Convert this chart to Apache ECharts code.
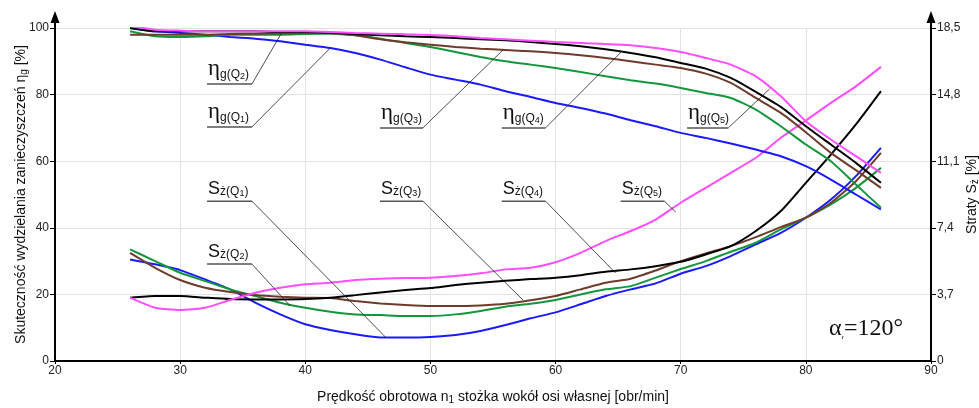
<!DOCTYPE html>
<html>
<head>
<meta charset="utf-8">
<script src="https://cdn.jsdelivr.net/npm/echarts@6/dist/echarts.min.js"></script>
<style>html,body{margin:0;padding:0;background:#fff}#c{width:979px;height:408px}</style>
</head>
<body>
<div id="c"></div>
<script>
// ---- data (x: rotational speed n1 [obr/min]) ----
const speed = [26,28,30,32,34,36,38,40,42,44,46,48,50,52,54,56,58,60,62,64,66,68,70,72,74,76,78,80,82,84,86];

// separation efficiency eta_g [%] (left axis)
const etaQ1 = [100,99,98.5,98,97.3,96.8,96,95,94,92.5,90.5,88.2,86,84.5,83,81,79.3,77.5,76,74.3,72.3,70.5,68.5,67,65.3,63.5,61.5,58.5,54.5,50,45.5];
const etaQ2 = [99,97.5,97.3,97.5,98,98,98,98.2,98.3,97.8,96.8,95.5,94.3,92.8,91.3,90,89,88,86.8,85.5,84.3,83.3,82,80.5,79,75.5,70.5,65,60,53,46];
const etaQ3 = [98,98,98,98,98.2,98.3,98.4,98.5,98.5,97.8,96.6,95.7,95,94.3,93.8,93.4,93,92.5,91.8,91,90,89,88,86.3,83.5,79,74.5,68.7,62.5,57.3,52];
const etaQ4 = [100,99,99,99,99,99,98.8,98.8,98.6,98.2,97.8,97.5,97.3,97,96.6,96.3,95.8,95.2,94.5,93.6,92.5,91.2,89.5,87.8,85,80.8,76.3,70.5,65,59.5,53.5];
const etaQ5 = [100.5,99.5,99.2,99,99,99,99,99,98.8,98.5,98.3,98.1,97.9,97.5,97,96.6,96.2,95.8,95.5,95.2,94.8,94,92.8,91,89,85.5,79.5,72,66.5,61.5,56.5];

// losses S_z [%] (right axis)
const lossQ1 = [5.64,5.37,5.05,4.53,3.98,3.24,2.59,2.04,1.72,1.48,1.30,1.30,1.33,1.44,1.67,2.00,2.37,2.70,3.15,3.61,3.98,4.31,4.85,5.27,5.83,6.48,7.12,7.96,8.97,10.27,11.84];
const lossQ2 = [6.20,5.55,4.90,4.44,3.98,3.61,3.24,2.96,2.74,2.59,2.55,2.50,2.50,2.59,2.78,3.02,3.18,3.39,3.70,3.98,4.16,4.63,5.11,5.55,6.07,6.57,7.31,7.96,8.70,9.62,10.73];
const lossQ3 = [6.01,5.18,4.50,4.07,3.83,3.66,3.57,3.52,3.50,3.33,3.20,3.11,3.05,3.05,3.09,3.18,3.37,3.61,3.98,4.35,4.57,5.03,5.55,5.98,6.38,6.88,7.44,7.96,8.79,9.99,11.56];
const lossQ4 = [3.52,3.61,3.61,3.52,3.44,3.42,3.42,3.44,3.52,3.66,3.81,3.94,4.05,4.22,4.35,4.46,4.55,4.63,4.77,4.96,5.09,5.27,5.51,5.92,6.38,7.22,8.33,9.90,11.47,13.14,14.99];
const lossQ5 = [3.52,2.96,2.83,2.96,3.39,3.79,4.07,4.26,4.35,4.50,4.57,4.61,4.63,4.72,4.87,5.09,5.18,5.49,6.01,6.66,7.22,7.86,8.79,9.62,10.45,11.29,12.40,13.36,14.34,15.26,16.34];

const qNames = ['1','2','3','4','5'];
const leftTicks = [0,20,40,60,80,100];
const rightTicks = ['0','3,7','7,4','11,1','14,8','18,5'];

// ---- styling / layout ----
const COLORS = ['#1a1aff','#14963c','#6e3b2c','#000000','#ff4dff'];
const SANS = 'Liberation Sans, Arial, sans-serif';
const SERIF = 'Liberation Serif, Times New Roman, serif';

// annotation placements (data coordinates of left axis)
const etaNotes = [
  {q:0, x0:32.15, x1:35.74, y:70.3, tx:42.0, ty:94.0},
  {q:1, x0:32.15, x1:35.74, y:83.2, tx:38.1, ty:98.5},
  {q:2, x0:45.97, x1:49.40, y:70.0, tx:55.8, ty:93.4},
  {q:3, x0:55.70, x1:59.20, y:70.0, tx:65.3, ty:93.0},
  {q:4, x0:70.50, x1:73.80, y:70.0, tx:77.1, ty:81.7}
];
const lossNotes = [
  {q:0, x0:32.15, x1:35.74, y:48.0, tx:46.4, ty:7.2},
  {q:1, x0:32.15, x1:35.74, y:29.1, tx:38.8, ty:16.5},
  {q:2, x0:45.97, x1:49.40, y:48.0, tx:57.4, ty:18.3},
  {q:3, x0:55.70, x1:59.20, y:48.0, tx:64.8, ty:26.4},
  {q:4, x0:65.20, x1:68.70, y:48.0, tx:69.6, ty:44.7}
];

const etaSets = [etaQ1, etaQ2, etaQ3, etaQ4, etaQ5];
const lossSets = [lossQ1, lossQ2, lossQ3, lossQ4, lossQ5];

const chart = echarts.init(document.getElementById('c'), null, {renderer:'canvas'});

const series = [];
lossSets.forEach((ys, i) => series.push({
  name: 'S' + qNames[i], type: 'line', yAxisIndex: 1, showSymbol: false, smooth: 0.2,
  data: speed.map((x, k) => [x, ys[k]]),
  lineStyle: {color: COLORS[i], width: 2}, itemStyle: {color: COLORS[i]}, z: 3
}));
etaSets.forEach((ys, i) => series.push({
  name: 'eta' + qNames[i], type: 'line', yAxisIndex: 0, showSymbol: false, smooth: 0.2,
  data: speed.map((x, k) => [x, ys[k]]),
  lineStyle: {color: COLORS[i], width: 2}, itemStyle: {color: COLORS[i]}, z: 3
}));

const axisLineStyle = {color: '#000', width: 2};
const labelStyle = {color: '#222', fontSize: 12, fontFamily: SANS};
const nameStyle = {color: '#111', fontSize: 14, fontFamily: SANS, lineHeight: 16,
  rich: {s: {fontSize: 10, fontFamily: SANS, color: '#111', verticalAlign: 'bottom', lineHeight: 6}}};

const option = {
  animation: false,
  backgroundColor: '#fff',
  grid: {left: 55, right: 48, top: 28, bottom: 47, containLabel: false, outerBoundsMode: 'none'},
  xAxis: {
    type: 'value', min: 20, max: 90, interval: 10,
    axisLine: {lineStyle: axisLineStyle},
    axisTick: {show: true, length: 3, lineStyle: {color: '#000', width: 1}},
    axisLabel: Object.assign({margin: 4}, labelStyle),
    splitLine: {show: true, lineStyle: {color: '#e2e2e2', width: 1}},
    name: 'Prędkość obrotowa n{s|1} stożka wokół osi własnej [obr/min]',
    nameLocation: 'middle', nameGap: 28, nameMoveOverlap: false, nameTextStyle: nameStyle
  },
  yAxis: [{
    type: 'value', min: 0, max: 100, interval: 20, position: 'left',
    axisLine: {show: true, lineStyle: axisLineStyle},
    axisTick: {show: true, length: 5, lineStyle: {color: '#000', width: 1}},
    axisLabel: Object.assign({margin: 6, formatter: v => String(leftTicks[Math.round(v / 20)])}, labelStyle),
    splitLine: {show: true, lineStyle: {color: '#e2e2e2', width: 1}},
    name: 'Skuteczność wydzielania zanieczyszczeń η{s|g} [%]',
    nameLocation: 'middle', nameRotate: 90, nameGap: 26, nameMoveOverlap: false, nameTextStyle: nameStyle
  }, {
    type: 'value', min: 0, max: 18.5, interval: 3.7, position: 'right',
    axisLine: {show: true, lineStyle: axisLineStyle},
    axisTick: {show: true, length: 5, lineStyle: {color: '#000', width: 1}},
    axisLabel: Object.assign({margin: 6, formatter: v => rightTicks[Math.round(v / 3.7)]}, labelStyle),
    splitLine: {show: false},
    name: 'Straty S{s|ż} [%]',
    nameLocation: 'middle', nameRotate: 90, nameGap: 33, nameMoveOverlap: false, nameTextStyle: nameStyle
  }],
  series: series
};
chart.setOption(option);

// ---- annotations (arrows, leader lines, labels) ----
const P = (x, y) => chart.convertToPixel({gridIndex: 0}, [x, y]);
const g = [];
// axis arrow extensions
[20, 90].forEach(ax => {
  const top = P(ax, 100);
  const x = Math.round(top[0]);
  g.push({type: 'line', shape: {x1: x, y1: top[1], x2: x, y2: top[1] - 8}, style: {stroke: '#000', lineWidth: 2}, z: 10});
  g.push({type: 'polygon', shape: {points: [[x, top[1] - 17], [x - 4.5, top[1] - 5], [x + 4.5, top[1] - 5]]}, style: {fill: '#000'}, z: 10});
});

function addNote(n, kind) {
  const a = P(n.x0, n.y), b = P(n.x1, n.y), t = P(n.tx, n.ty);
  g.push({type: 'line', shape: {x1: a[0], y1: a[1], x2: b[0], y2: b[1]}, style: {stroke: '#555', lineWidth: 1.5}, z: 5});
  g.push({type: 'line', shape: {x1: b[0], y1: b[1], x2: t[0], y2: t[1]}, style: {stroke: '#222', lineWidth: 0.8}, z: 5});
  const q = qNames[n.q];
  let text, rich;
  if (kind === 'eta') {
    text = '{e|η}{g|g(Q}{d|' + q + '}{g|)}';
    rich = {
      e: {fontSize: 23, fontFamily: SERIF, lineHeight: 25, verticalAlign: 'bottom', fill: '#111'},
      g: {fontSize: 12, fontFamily: SANS, lineHeight: 12, verticalAlign: 'bottom', fill: '#111'},
      d: {fontSize: 9, fontFamily: SANS, lineHeight: 6, verticalAlign: 'bottom', fill: '#111'}
    };
  } else {
    text = '{e|S}{g|ż(Q}{d|' + q + '}{g|)}';
    rich = {
      e: {fontSize: 18, fontFamily: SANS, lineHeight: 20, verticalAlign: 'bottom', fill: '#111'},
      g: {fontSize: 12, fontFamily: SANS, lineHeight: 12, verticalAlign: 'bottom', fill: '#111'},
      d: {fontSize: 9, fontFamily: SANS, lineHeight: 8, verticalAlign: 'bottom', fill: '#111'}
    };
  }
  g.push({type: 'text', x: a[0] + 1, y: a[1] - 3, z: 6,
    style: {text: text, rich: rich, align: 'left', verticalAlign: 'bottom', fill: '#111'}});
}
etaNotes.forEach(n => addNote(n, 'eta'));
lossNotes.forEach(n => addNote(n, 'loss'));

// alpha label
const al = P(81.85, 6.0);
g.push({type: 'text', x: al[0], y: al[1], z: 6, style: {
  text: '{a|α}{r|r}{b|=120°}', align: 'left', verticalAlign: 'bottom', fill: '#111',
  rich: {
    a: {fontSize: 24, fontFamily: SERIF, lineHeight: 24, verticalAlign: 'bottom', fill: '#111'},
    r: {fontSize: 7, fontFamily: SERIF, lineHeight: 9, verticalAlign: 'bottom', fill: '#111'},
    b: {fontSize: 24, fontFamily: SERIF, lineHeight: 24, verticalAlign: 'bottom', fill: '#111'}
  }
}});

chart.setOption({graphic: {elements: g}});
</script>
</body>
</html>
